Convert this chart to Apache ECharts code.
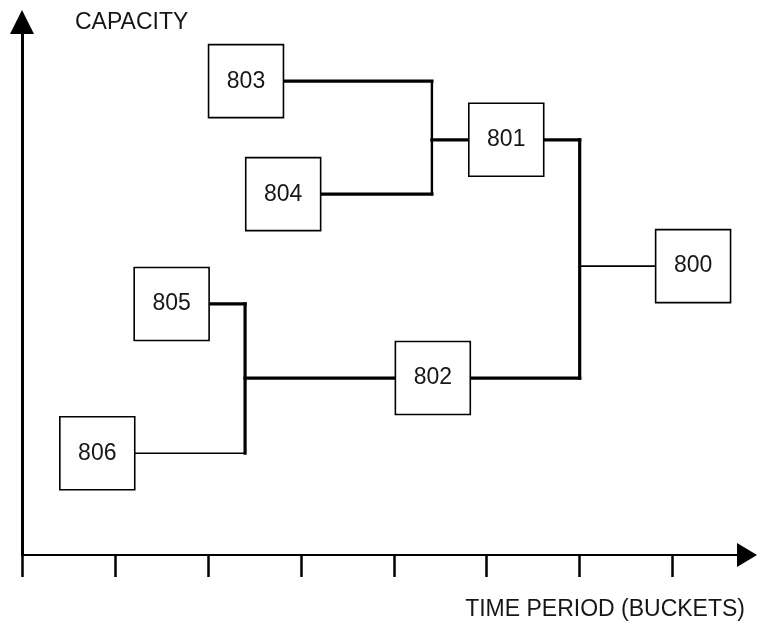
<!DOCTYPE html>
<html>
<head>
<meta charset="utf-8">
<script src="https://cdn.jsdelivr.net/npm/echarts@6/dist/echarts.min.js"></script>
<style>
  html, body { margin: 0; padding: 0; background: #ffffff; }
  #chart { width: 760px; height: 635px; }
</style>
</head>
<body>
<div id="chart"></div>
<script>
// ---- data ----
const parts    = ['800', '801', '802', '803', '804', '805', '806'];
const bucket   = [7.22, 5.21, 4.42, 2.41, 2.81, 1.61, 0.81];   // time period (buckets)
const capacity = [54.2, 77.9, 33.2, 88.9, 67.7, 47.1, 19.1];   // capacity
const parentOf = [null, '800', '800', '801', '801', '802', '802'];
const mergeParents = ['800', '801', '802'];
const mergeBucket  = [6.0, 4.41, 2.40];                         // where children meet
const xTicks = [0, 1, 2, 3, 4, 5, 6, 7];
const xAxisTitle = 'TIME PERIOD (BUCKETS)';
const yAxisTitle = 'CAPACITY';

// ---- styles ----
const BOX_HALF_W = 0.403;
const BOX_HALF_H = 6.85;
const thinLinks = ['806', '800'];
const FONT = 'Liberation Sans, Arial, sans-serif';
const TEXT_COLOR = '#161616';

const idx = name => parts.indexOf(name);

const linkData = [];
// child feed lines: child right edge -> merge column
parts.forEach((name, i) => {
  const p = parentOf[i];
  if (!p) return;
  const mx = mergeBucket[mergeParents.indexOf(p)];
  linkData.push({
    coords: [[bucket[i] + BOX_HALF_W, capacity[i]], [mx, capacity[i]]],
    lineStyle: { width: thinLinks.includes(name) ? 1.6 : 3.2 }
  });
});
// vertical merge bars and parent stubs
mergeParents.forEach((p, k) => {
  const mx = mergeBucket[k];
  const kids = parts.filter((n, i) => parentOf[i] === p).map(n => capacity[idx(n)]);
  linkData.push({
    coords: [[mx, Math.min(...kids)], [mx, Math.max(...kids)]],
    lineStyle: { width: p === '801' ? 2.4 : 3.2 }
  });
  const pi = idx(p);
  linkData.push({
    coords: [[mx, capacity[pi]], [bucket[pi] - BOX_HALF_W, capacity[pi]]],
    lineStyle: { width: thinLinks.includes(p) ? 1.6 : 3.2 }
  });
});

const boxData = parts.map((name, i) => [bucket[i], capacity[i], name]);

const chart = echarts.init(document.getElementById('chart'), null, { renderer: 'canvas' });
chart.setOption({
  backgroundColor: '#ffffff',
  animation: false,
  grid: { left: 22, top: 22, width: 725, bottom: 80, containLabel: false },
  xAxis: {
    type: 'value', min: 0, max: 7.8, interval: 1,
    name: xAxisTitle, nameLocation: 'end', nameGap: -2,
    nameTextStyle: {
      fontFamily: FONT, fontSize: 23, color: TEXT_COLOR,
      align: 'right', verticalAlign: 'top', padding: [43, 0, 0, 0]
    },
    axisLine: {
      show: true, onZero: false,
      lineStyle: { color: '#000', width: 2 },
      symbol: ['none', 'triangle'], symbolSize: [24, 20], symbolOffset: [0, 0]
    },
    axisTick: { show: true, inside: false, length: 22, customValues: xTicks,
                lineStyle: { color: '#000', width: 2.5 } },
    axisLabel: { show: false },
    splitLine: { show: false }
  },
  yAxis: {
    type: 'value', min: 0, max: 100, interval: 10,
    name: yAxisTitle, nameLocation: 'end', nameGap: -1,
    nameTextStyle: {
      fontFamily: FONT, fontSize: 23, color: TEXT_COLOR,
      align: 'left', verticalAlign: 'middle', padding: [0, 0, 0, 53]
    },
    axisLine: {
      show: true, onZero: false,
      lineStyle: { color: '#000', width: 3 },
      symbol: ['none', 'triangle'], symbolSize: [24, 24], symbolOffset: [0, 0]
    },
    axisTick: { show: false },
    axisLabel: { show: false },
    splitLine: { show: false }
  },
  series: [
    {
      type: 'lines',
      coordinateSystem: 'cartesian2d',
      polyline: true,
      z: 2,
      lineStyle: { color: '#000', width: 3, opacity: 1, cap: 'square' },
      data: linkData,
      silent: true
    },
    {
      type: 'custom',
      z: 3,
      data: boxData,
      encode: { x: 0, y: 1 },
      renderItem: function (params, api) {
        const x = api.value(0), y = api.value(1);
        const tl = api.coord([x - BOX_HALF_W, y + BOX_HALF_H]);
        const br = api.coord([x + BOX_HALF_W, y - BOX_HALF_H]);
        return {
          type: 'rect',
          shape: { x: tl[0], y: tl[1], width: br[0] - tl[0], height: br[1] - tl[1] },
          style: { fill: '#ffffff', stroke: '#000', lineWidth: 1.6 },
          textContent: {
            style: { text: String(boxData[params.dataIndex][2]), fill: TEXT_COLOR,
                     fontSize: 23, fontFamily: FONT }
          },
          textConfig: { position: 'inside' }
        };
      }
    }
  ]
});
</script>
</body>
</html>
